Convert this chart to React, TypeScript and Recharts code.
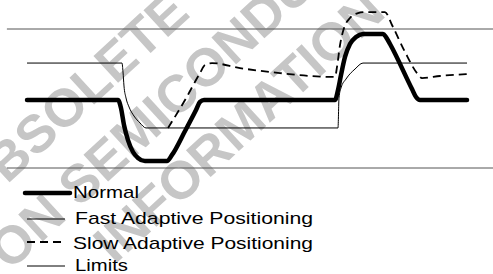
import React from 'react';
import { LineChart, Line, XAxis, YAxis } from 'recharts';

// time axis 0..100, level axis: lower limit = 0, upper limit = 100
const normal = [
  { t: 5.48, v: 48.9 }, { t: 23.94, v: 48.9 }, { t: 24.54, v: 43.2 }, { t: 25.15, v: 30.9 },
  { t: 25.96, v: 20.1 }, { t: 26.98, v: 11.5 }, { t: 27.99, v: 7.2 }, { t: 29.41, v: 5.0 },
  { t: 33.87, v: 5.0 }, { t: 34.89, v: 9.4 }, { t: 37.53, v: 26.6 }, { t: 39.76, v: 41.7 },
  { t: 40.57, v: 47.5 }, { t: 41.38, v: 48.9 }, { t: 67.95, v: 48.9 }, { t: 68.56, v: 56.1 },
  { t: 69.17, v: 66.9 }, { t: 69.98, v: 79.9 }, { t: 70.99, v: 89.2 }, { t: 72.21, v: 94.2 },
  { t: 73.63, v: 96.4 }, { t: 77.69, v: 96.4 }, { t: 78.3, v: 94.2 }, { t: 79.11, v: 89.2 },
  { t: 83.57, v: 56.8 }, { t: 84.38, v: 51.1 }, { t: 85.19, v: 48.9 }, { t: 94.73, v: 48.9 },
];

const fastAdaptive = [
  { t: 5.48, v: 75.5 }, { t: 24.75, v: 75.5 }, { t: 24.95, v: 69.1 }, { t: 25.15, v: 59.0 },
  { t: 25.56, v: 50.4 }, { t: 26.17, v: 43.9 }, { t: 27.18, v: 37.4 }, { t: 28.4, v: 32.4 },
  { t: 29.61, v: 28.8 }, { t: 68.56, v: 28.8 }, { t: 68.76, v: 50.4 }, { t: 69.17, v: 57.6 },
  { t: 70.18, v: 64.0 }, { t: 72.01, v: 71.2 }, { t: 73.63, v: 75.5 }, { t: 94.73, v: 75.5 },
];

const slowAdaptive = [
  { t: 34.08, v: 28.8 }, { t: 37.53, v: 48.9 }, { t: 40.57, v: 68.3 }, { t: 41.58, v: 74.1 },
  { t: 43.0, v: 75.5 }, { t: 48.68, v: 71.9 }, { t: 56.8, v: 68.3 }, { t: 62.88, v: 66.2 },
  { t: 67.95, v: 65.5 }, { t: 68.36, v: 72.7 }, { t: 68.97, v: 88.5 }, { t: 69.78, v: 100.7 },
  { t: 70.99, v: 107.9 }, { t: 72.62, v: 111.5 }, { t: 74.04, v: 112.2 }, { t: 78.09, v: 112.2 },
  { t: 79.51, v: 102.9 }, { t: 82.15, v: 83.5 }, { t: 84.58, v: 68.3 }, { t: 85.6, v: 64.7 },
  { t: 89.25, v: 66.2 }, { t: 94.73, v: 67.6 },
];

const upperLimit = [{ t: 1.4, v: 100 }, { t: 100, v: 100 }];
const lowerLimit = [{ t: 1.4, v: 0 }, { t: 100, v: 0 }];

const legendLabels = ['Normal', 'Fast Adaptive Positioning', 'Slow Adaptive Positioning', 'Limits'];
const watermarkLines = ['OBSOLETE', 'ON SEMICONDUCTOR', 'INFORMATION'];

const font = '"Liberation Sans", Arial, Helvetica, sans-serif';

function Watermark() {
  const spots = [
    { x: 84, y: 114 },
    { x: 219, y: 80 },
    { x: 251, y: 140 },
  ];
  return (
    <svg width={493} height={274} style={{ position: 'absolute', left: 0, top: 0 }}>
      {watermarkLines.map((line, i) => (
        <text
          key={line}
          transform={`translate(${spots[i].x},${spots[i].y}) rotate(-42.5)`}
          textAnchor="middle"
          fontFamily={font}
          fontWeight="bold"
          fontSize={53}
          fill="#c6c6c6"
        >
          {line}
        </text>
      ))}
    </svg>
  );
}

function ChartLegend() {
  const rows = [
    { y: 193, x1: 25, x2: 70, w: 4.5, dash: undefined, tx: 73, ty: 198, len: 66 },
    { y: 219, x1: 27, x2: 65, w: 1, dash: undefined, tx: 75, ty: 224, len: 238 },
    { y: 242, x1: 27, x2: 65, w: 1.8, dash: '8 5', tx: 73, ty: 249, len: 240 },
    { y: 266, x1: 27, x2: 65, w: 1, dash: undefined, tx: 75, ty: 271, len: 53 },
  ];
  return (
    <svg width={493} height={274} style={{ position: 'absolute', left: 0, top: 0 }}>
      {rows.map((r, i) => (
        <g key={legendLabels[i]}>
          <line
            x1={r.x1}
            x2={r.x2}
            y1={r.y}
            y2={r.y}
            stroke="#000"
            strokeWidth={r.w}
            strokeDasharray={r.dash}
            strokeLinecap={i === 0 ? 'round' : 'butt'}
          />
          <text
            x={r.tx}
            y={r.ty}
            fontFamily={font}
            fontSize={17}
            fill="#000"
            textLength={r.len}
            lengthAdjust="spacingAndGlyphs"
          >
            {legendLabels[i]}
          </text>
        </g>
      ))}
    </svg>
  );
}

export default function App() {
  return (
    <div style={{ position: 'absolute', left: 0, top: 0, width: 493, height: 274, background: '#fff', overflow: 'hidden' }}>
      <Watermark />
      <div style={{ position: 'absolute', left: 0, top: 0 }}>
        <LineChart width={493} height={274} margin={{ top: 1.2, right: 0, bottom: 106, left: 0 }}>
          <XAxis dataKey="t" type="number" domain={[0, 100]} hide />
          <YAxis type="number" domain={[0, 120]} hide />
          <Line data={upperLimit} dataKey="v" type="linear" stroke="#555" strokeWidth={1} dot={false} activeDot={false} isAnimationActive={false} />
          <Line data={lowerLimit} dataKey="v" type="linear" stroke="#555" strokeWidth={1} dot={false} activeDot={false} isAnimationActive={false} />
          <Line data={fastAdaptive} dataKey="v" type="monotone" stroke="#000" strokeWidth={1} dot={false} activeDot={false} isAnimationActive={false} />
          <Line data={slowAdaptive} dataKey="v" type="monotone" stroke="#000" strokeWidth={1.8} strokeDasharray="8 5" dot={false} activeDot={false} isAnimationActive={false} />
          <Line data={normal} dataKey="v" type="monotone" stroke="#000" strokeWidth={4.5} strokeLinecap="round" strokeLinejoin="round" dot={false} activeDot={false} isAnimationActive={false} />
        </LineChart>
      </div>
      <ChartLegend />
    </div>
  );
}
